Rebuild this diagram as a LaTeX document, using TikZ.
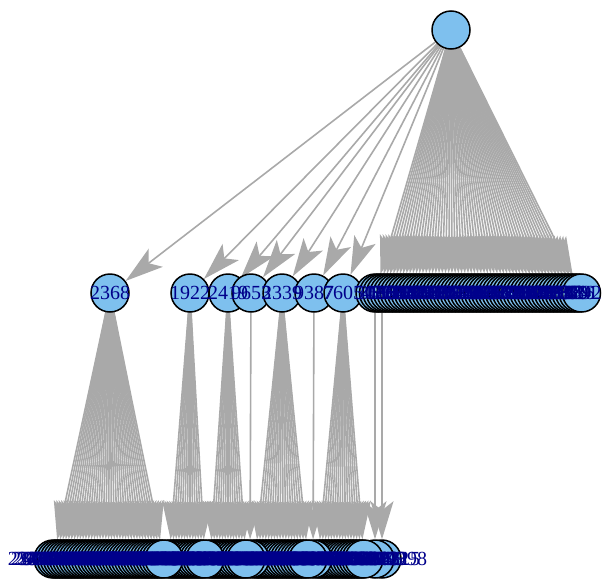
\documentclass[tikz,border=0pt]{standalone}
\usepackage{fontspec}
\setmainfont{Liberation Serif}
\usetikzlibrary{arrows.meta}
\pgfdeclarelayer{edges}
\pgfdeclarelayer{labels}
\pgfsetlayers{edges,main,labels}
\definecolor{vfill}{HTML}{7EC0EE}
\definecolor{ecol}{HTML}{A9A9A9}
\definecolor{lcol}{HTML}{00008B}
\tikzset{
  vtx/.style={circle, draw=black, line width=1.5pt, fill=vfill, minimum size=38pt, inner sep=0pt},
  lbl/.style={text=lcol, font=\fontsize{20}{20}\selectfont, inner sep=0pt},
  edg/.style={draw=ecol, line width=1.6pt, -{Stealth[length=38pt,width=23pt,inset=9pt]}},
}
\begin{document}
\begin{tikzpicture}[x=1pt,y=-1pt]
\useasboundingbox (0,0) rectangle (602,581);
% root
\node[vtx] (root) at (451,30) {};
% middle row, named nodes
\foreach \n/\x/\t in {m1/110/2368, m2/190/1922, m3/228/2419, m4/251/9653, m5/282/2339, m6/314/9387, m7/343/7605}{
  \node[vtx] (\n) at (\x,293) {};
  \begin{pgfonlayer}{labels}\node[lbl] (l\n) at (\n) {\t};\end{pgfonlayer}
  \begin{pgfonlayer}{edges}\draw[edg] (root) -- (\n);\end{pgfonlayer}
}
% middle row, dense cluster
\foreach \t [count=\i from 0] in {3036,3115,4872,1290,5531,2087,6643,1458,7720,3364,2915,8107,4426,1873,5290,6618,3041,7952,2276,4589,1137,8364,5802,2651,9023,3718,6245,1596,4780,2033,7419,5166,8841,3297,6072,1924,4453,2718,9385,5610,3849,7206,1362,6987,2544,4105,8630,3472,5928,1781,7063,2399,6514,4237,9148,1685,5374,2826,3501,2392}{
  \pgfmathsetmacro\x{375+3.5*\i}
  \node[vtx] (c\i) at (\x,293) {};
  \begin{pgfonlayer}{labels}\node[lbl] (lc\i) at (c\i) {\t};\end{pgfonlayer}
  \begin{pgfonlayer}{edges}\draw[edg] (root) -- (c\i);\end{pgfonlayer}
}
% bottom row, groups drawn right to left
\foreach \p/\xa/\xb/\k/\s in {c2/382/382/1/100, c0/375/375/1/99, m7/318/364/16/83, m6/313/313/1/82, m5/255/308/18/64, m4/250/250/1/63, m3/210/246/13/50, m2/169/205/13/37, m1/53/164/37/0}{
  \foreach \j in {1,...,\k}{
    \pgfmathsetmacro\x{\xa+(\xb-\xa)*(\j-1)/max(\k-1,1)}
    \pgfmathtruncatemacro\id{\s+\j-1}
    \pgfmathtruncatemacro\la{mod(\id*37+123,900)+100}
    \pgfmathtruncatemacro\lb{mod(\id*59+649,900)+100}
    \pgfmathtruncatemacro\lc{mod(\id*83+98,900)+100}
    \node[vtx] (b\id) at (\x,559) {};
    \begin{pgfonlayer}{labels}\node[lbl] (lb\id) at (b\id) {\la\lb\lc};\end{pgfonlayer}
    \begin{pgfonlayer}{edges}\draw[edg] (\p) -- (b\id);\end{pgfonlayer}
  }
}
\end{tikzpicture}
\end{document}
